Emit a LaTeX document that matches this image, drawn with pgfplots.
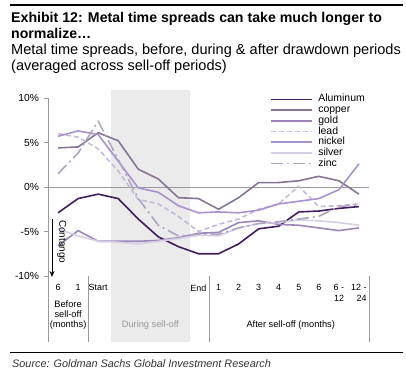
\documentclass[border=0pt]{standalone}
\usepackage{fontspec}
\setmainfont{Liberation Sans}
\usepackage{pgfplots}
\usepackage{pgfplotstable}
\pgfplotsset{compat=1.18}
\usetikzlibrary{arrows.meta}

\definecolor{alu}{HTML}{3F1D5E}
\definecolor{cop}{HTML}{857494}
\definecolor{gol}{HTML}{9A86BA}
\definecolor{lea}{HTML}{C6B8DD}
\definecolor{nic}{HTML}{A891CF}
\definecolor{sil}{HTML}{D6CEE5}
\definecolor{zin}{HTML}{AEA6BF}
\definecolor{shadecol}{HTML}{EBEBEB}
\definecolor{axgray}{HTML}{9A9A9A}

\pgfplotstableread{
i   alu   cop   gol   lea   nic   sil   zin
0  -2.9   4.4  -6.6   6.0   5.7  -4.7   1.5
1  -1.3   4.5  -4.9   5.6   6.3  -5.5   3.8
2  -0.8   6.1  -6.1   4.3   5.9  -6.1   7.4
3  -1.3   5.2  -6.1   1.8   2.9  -6.2   3.1
4  -3.6   2.0  -6.1  -1.4  -0.1  -6.4  -1.3
5  -5.6   0.9  -6.0  -1.9  -0.6  -6.1  -4.3
6  -6.7  -1.2  -5.7  -3.3  -2.1  -5.8  -5.5
7  -7.5  -1.3  -5.2  -5.0  -2.9  -5.4  -5.3
8  -7.5  -2.5  -5.1  -4.2  -2.8  -5.5  -5.3
9  -6.4  -1.2  -4.0  -3.6  -2.9  -4.6  -4.6
10 -4.7   0.5  -3.8  -2.5  -2.6  -4.1  -4.1
11 -4.4   0.5  -4.2  -1.9  -1.9  -4.0  -3.9
12 -2.8   0.7  -4.3   0.1  -1.6  -3.7  -3.6
13 -2.7   1.2  -4.6  -2.2  -1.3  -3.8  -3.3
14 -2.4   0.7  -4.9  -2.1  -0.3  -4.0  -2.2
15 -2.2  -0.8  -4.6  -1.9   2.6  -4.3  -2.0
}\data

\begin{document}
\begin{tikzpicture}
\path[use as bounding box] (0bp,0bp) rectangle (406bp,-375bp);

% header
\draw[line width=1.2bp] (10bp,-5bp) -- (403bp,-5bp);
\node[anchor=base west, inner sep=0pt, font=\fontsize{14.2}{16}\bfseries] at (11bp,-22bp) {Exhibit 12: Metal time spreads can take much longer to};
\node[anchor=base west, inner sep=0pt, font=\fontsize{14.2}{16}\bfseries] at (11bp,-38bp) {normalize\ldots};
\node[anchor=base west, inner sep=0pt, font=\fontsize{14.6}{16}\selectfont] at (11bp,-54.5bp) {Metal time spreads, before, during \& after drawdown periods};
\node[anchor=base west, inner sep=0pt, font=\fontsize{14.6}{16}\selectfont] at (11bp,-70.5bp) {(averaged across sell-off periods)};

\begin{axis}[
  at={(48bp,-276bp)}, anchor=south west,
  scale only axis, width=321bp, height=178bp,
  xmin=-0.5, xmax=15.5, ymin=-10, ymax=10,
  clip=false,
  axis line style={draw=none},
  xtick={0,...,15},
  xticklabels={6,1,Start,,,,,End,1,2,3,4,5,6,{6 -\\12},{12 -\\24}},
  xtick style={draw=none},
  xticklabel style={font=\fontsize{9}{10.5}\selectfont, align=right, anchor=north, yshift=-1bp},
  ytick={-10,-5,0,5,10},
  yticklabels={-10\%,-5\%,0\%,5\%,10\%},
  ytick pos=left, tick align=outside, major tick length=4bp,
  ytick style={draw=axgray, line width=0.7bp},
  yticklabel style={font=\fontsize{10.3}{12}\selectfont, xshift=-1.5bp},
  legend style={at={(axis cs:10.6,10.45)}, anchor=north west, draw=none, fill=none,
    font=\fontsize{10.5}{10.5}\selectfont, inner sep=0pt, outer sep=0pt,
    nodes={inner sep=0pt, text height=7.9bp, text depth=2.8bp},
    /tikz/every odd column/.append style={column sep=5bp}},
  legend cell align=left,
  legend image code/.code={\draw[#1, line width=1.6bp] (0bp,0bp) -- (41bp,0bp);},
  every axis plot/.append style={line width=1.6bp, line join=round},
]
% shaded "during" region
\fill[shadecol] ([yshift=8bp]axis cs:2.64,10) rectangle ([yshift=-66bp]axis cs:6.58,-10);
% zero line
\draw[axgray, line width=1bp] (axis cs:-0.5,0) -- (axis cs:15.5,0);
% axis line and separators
\draw[axgray, line width=0.9bp] (axis cs:-0.5,10) -- ([yshift=-66bp]axis cs:-0.5,-10);
\draw[axgray, line width=0.9bp] (axis cs:1.5,-10) -- ([yshift=-66bp]axis cs:1.5,-10);
\draw[axgray, line width=0.9bp] (axis cs:7.53,-10) -- ([yshift=-66bp]axis cs:7.53,-10);
\draw[axgray, line width=0.9bp] (axis cs:15.5,-10) -- ([yshift=-66bp]axis cs:15.5,-10);

\addplot[alu] table[x=i,y=alu] {\data};
\addlegendentry{Aluminum}
\addplot[cop] table[x=i,y=cop] {\data};
\addlegendentry{copper}
\addplot[gol] table[x=i,y=gol] {\data};
\addlegendentry{gold}
\addplot[lea, dash pattern=on 5bp off 3bp] table[x=i,y=lea] {\data};
\addlegendentry{lead}
\addplot[nic] table[x=i,y=nic] {\data};
\addlegendentry{nickel}
\addplot[sil] table[x=i,y=sil] {\data};
\addlegendentry{silver}
\addplot[zin, dash pattern=on 12bp off 4bp on 2bp off 4bp] table[x=i,y=zin] {\data};
\addlegendentry{zinc}

% group labels
\node[anchor=base, align=center, inner sep=0pt, font=\fontsize{9.3}{9.6}\selectfont] at ([yshift=-51bp]axis cs:0.5,-10) {Before\\sell-off\\(months)};
\node[anchor=base, inner sep=0pt, text=axgray, font=\fontsize{9.3}{11}\selectfont] at ([yshift=-51bp]axis cs:4.6,-10) {During sell-off};
\node[anchor=base, inner sep=0pt, font=\fontsize{9.3}{11}\selectfont] at ([yshift=-51bp]axis cs:11.6,-10) {After sell-off (months)};
\end{axis}

% contango arrow (annotation)
\draw[black, line width=1bp, -{Stealth[length=6bp,width=5bp]}] (52bp,-219bp) -- (52bp,-277bp);
\node[rotate=-90, anchor=south west, inner sep=0pt, font=\fontsize{10}{12}\selectfont] at (57bp,-220bp) {Contango};

% footer
\draw[line width=1bp] (10bp,-352.7bp) -- (403bp,-352.7bp);
\node[anchor=base west, inner sep=0pt, text=black!80, font=\fontsize{10.9}{12}\itshape] at (12bp,-367bp) {Source: Goldman Sachs Global Investment Research};
\end{tikzpicture}
\end{document}
